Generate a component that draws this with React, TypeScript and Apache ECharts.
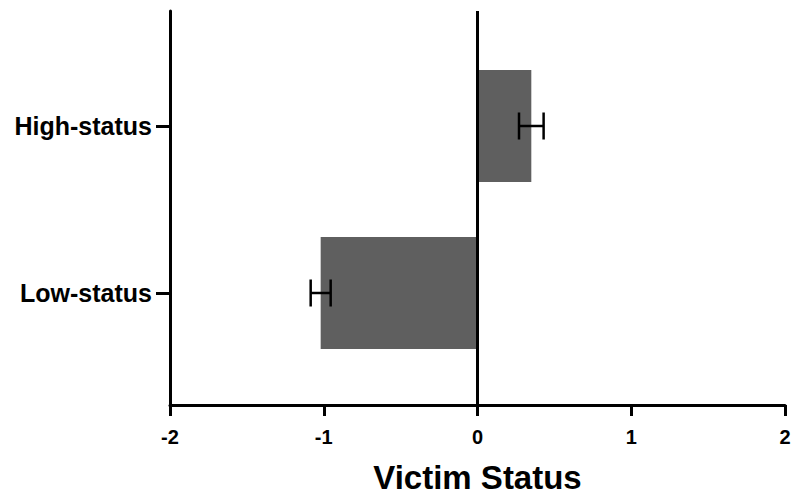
import React, { useEffect, useRef } from "react";
import * as echarts from "echarts";

const categories = ["Low-status", "High-status"];
const means = [-1.02, 0.35];
const errors = [0.065, 0.08];
const xTicks = [-2, -1, 0, 1, 2];
const xTitle = "Victim Status";

const FONT = "'Liberation Sans', Arial, sans-serif";

export default function App() {
  const ref = useRef<HTMLDivElement>(null);
  useEffect(() => {
    if (!ref.current) return;
    const chart = echarts.init(ref.current, null, { renderer: "svg" });
    const errData = categories.map((_, i) => [i, means[i] - errors[i], means[i] + errors[i]]);
    const option: any = {
      animation: false,
      backgroundColor: "#ffffff",
      grid: [
        { left: 170, right: 8, top: 11, bottom: 92, outerBoundsMode: "none" },
        { left: 170, right: 8, top: 42.5, bottom: 120.5, outerBoundsMode: "none" },
      ],
      xAxis: [
        {
          type: "value",
          gridIndex: 0,
          min: xTicks[0],
          max: xTicks[xTicks.length - 1],
          interval: 1,
          axisLine: { show: true, onZero: false, lineStyle: { color: "#000", width: 3 } },
          axisTick: { show: true, length: 11, lineStyle: { color: "#000", width: 3 } },
          axisLabel: {
            show: true,
            color: "#000",
            fontFamily: FONT,
            fontWeight: "bold",
            fontSize: 20,
            margin: 22,
          },
          splitLine: { show: false },
          name: xTitle,
          nameLocation: "middle",
          nameGap: 56,
          nameTextStyle: { color: "#000", fontFamily: FONT, fontWeight: "bold", fontSize: 33, verticalAlign: "top" },
        },
        {
          type: "value",
          gridIndex: 1,
          min: xTicks[0],
          max: xTicks[xTicks.length - 1],
          interval: 1,
          show: false,
        },
      ],
      yAxis: [
        {
          type: "value",
          gridIndex: 0,
          min: 0,
          max: 1,
          axisLine: { show: true, onZero: false, lineStyle: { color: "#000", width: 3 } },
          axisTick: { show: false },
          axisLabel: { show: false },
          splitLine: { show: false },
        },
        {
          type: "category",
          gridIndex: 1,
          data: categories,
          axisLine: { show: false, onZero: false },
          axisTick: { show: true, alignWithLabel: true, length: 14, lineStyle: { color: "#000", width: 3 } },
          axisLabel: {
            color: "#000",
            fontFamily: FONT,
            fontWeight: "bold",
            fontSize: 25,
            margin: 18,
          },
          splitLine: { show: false },
        },
      ],
      series: [
        {
          type: "bar",
          xAxisIndex: 1,
          yAxisIndex: 1,
          data: means,
          barWidth: 112,
          itemStyle: { color: "#5f5f5f" },
          z: 2,
        },
        {
          type: "custom",
          xAxisIndex: 1,
          yAxisIndex: 1,
          data: errData,
          encode: { y: 0, x: [1, 2] },
          z: 5,
          renderItem: (params: any, api: any) => {
            const c = api.value(0);
            const lo = api.coord([api.value(1), c]);
            const hi = api.coord([api.value(2), c]);
            const h = 13.5;
            const st = { stroke: "#000", lineWidth: 2.5 };
            return {
              type: "group",
              children: [
                { type: "line", shape: { x1: lo[0], y1: lo[1], x2: hi[0], y2: hi[1] }, style: st },
                { type: "line", shape: { x1: lo[0], y1: lo[1] - h, x2: lo[0], y2: lo[1] + h }, style: st },
                { type: "line", shape: { x1: hi[0], y1: hi[1] - h, x2: hi[0], y2: hi[1] + h }, style: st },
              ],
            };
          },
        },
        {
          type: "custom",
          xAxisIndex: 0,
          yAxisIndex: 0,
          data: [[0]],
          z: 6,
          renderItem: (params: any, api: any) => {
            const a = api.coord([api.value(0), 0]);
            const b = api.coord([api.value(0), 1]);
            return {
              type: "line",
              shape: { x1: a[0], y1: a[1], x2: b[0], y2: b[1] },
              style: { stroke: "#000", lineWidth: 3 },
            };
          },
        },
      ],
    };
    chart.setOption(option);
    return () => chart.dispose();
  }, []);
  return <div ref={ref} style={{ width: 793, height: 497, position: "absolute", left: 0, top: 0 }} />;
}
